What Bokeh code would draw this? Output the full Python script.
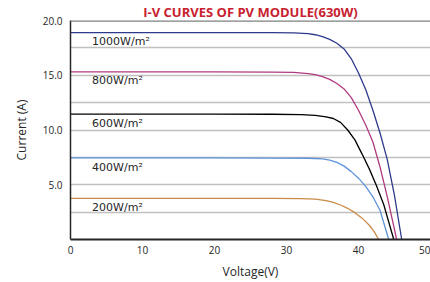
from bokeh.plotting import figure
from bokeh.models import FixedTicker, Span, NumeralTickFormatter, Range1d
from bokeh.core.properties import value
from bokeh.embed import file_html
from bokeh.resources import INLINE

# ---- data ----
v_1000 = [0, 20, 28, 31, 33, 34, 35, 36, 37, 38, 39, 40, 41, 42, 43, 44, 45, 46.0]
i_1000 = [18.9, 18.9, 18.89, 18.87, 18.8, 18.7, 18.53, 18.28, 17.92, 17.4, 16.5, 15.2, 13.7, 11.8, 9.7, 7.3, 4.0, 0]

v_800 = [0, 20, 28, 31, 33, 34, 35, 36, 37, 38, 39, 40, 41, 42, 43, 44, 45.3]
i_800 = [15.3, 15.3, 15.29, 15.26, 15.15, 15.05, 14.88, 14.62, 14.25, 13.75, 12.95, 11.8, 10.45, 8.9, 6.6, 3.9, 0]

v_600 = [0, 20, 28, 32, 34, 35.5, 36.5, 37.5, 38.5, 39.5, 40.5, 41.5, 42.5, 43.5, 44.9]
i_600 = [11.45, 11.45, 11.44, 11.4, 11.33, 11.2, 11.05, 10.7, 10.0, 9.1, 7.8, 6.45, 4.9, 3.2, 0]

v_400 = [0, 20, 28, 33, 35, 36, 37, 38, 39, 40, 41, 42, 43, 44.2]
i_400 = [7.45, 7.45, 7.44, 7.42, 7.36, 7.25, 7.05, 6.7, 6.2, 5.6, 4.85, 3.9, 2.65, 0]

v_200 = [0, 20, 28, 32, 34, 35.5, 36.5, 37.5, 38.5, 39.5, 40.5, 41.5, 42.2, 42.8]
i_200 = [3.76, 3.76, 3.76, 3.74, 3.68, 3.55, 3.4, 3.15, 2.85, 2.45, 1.95, 1.3, 0.7, 0]

series_labels = ["1000W/m²", "800W/m²", "600W/m²", "400W/m²", "200W/m²"]
label_v = [3, 3, 3, 3, 3]
label_i = [18.1, 14.5, 10.6, 6.6, 2.95]

x_ticks = [0, 10, 20, 30, 40, 50]
y_ticks = [5, 10, 15, 20]
y_minor = [2.5, 7.5, 12.5, 17.5]

title_text = "I-V CURVES OF PV MODULE(630W)"
x_title = "Voltage(V)"
y_title = "Current (A)"

colors = ["#2E3A8C", "#B03A80", "#000000", "#5E93DA", "#C98B48"]

p = figure(width=430, height=282, output_backend="svg", toolbar_location=None,
           x_range=Range1d(0, 50), y_range=Range1d(0, 20),
           min_border_left=70, min_border_right=0, min_border_top=0, min_border_bottom=0,
           title=title_text)
p.outline_line_color = None
p.background_fill_color = "white"
p.border_fill_color = "white"

p.title.text_font = "Open Sans"
p.title.text_font_style = "bold"
p.title.text_font_size = "13px"
p.title.text_color = "#C8202E"
p.title.align = "center"
p.title.standoff = 0
p.title.offset = 0

# grids
p.xgrid.grid_line_color = None
p.yaxis.ticker = FixedTicker(ticks=y_ticks, minor_ticks=y_minor)
p.xaxis.ticker = FixedTicker(ticks=x_ticks)
p.ygrid.grid_line_color = "#C0C0C0"
p.ygrid.grid_line_width = 1.5
p.ygrid.minor_grid_line_color = "#C0C0C0"
p.ygrid.minor_grid_line_width = 1.5

top_line = Span(location=20, dimension="width", line_color="#7F7F7F", line_width=2.5)
p.add_layout(top_line)

for v, i, c in zip([v_1000, v_800, v_600, v_400, v_200],
                   [i_1000, i_800, i_600, i_400, i_200], colors):
    p.line(v, i, line_color=c, line_width=1.3)

p.text(x=label_v, y=label_i, text=series_labels, text_font=value("DejaVu Sans"),
       text_font_size="11px", text_color="#262626", text_baseline="middle", text_align="left")

# axes
for ax in (p.xaxis, p.yaxis):
    ax.major_tick_line_color = None
    ax.minor_tick_line_color = None
    ax.major_tick_out = 0
    ax.major_tick_in = 0
    ax.minor_tick_out = 0
    ax.minor_tick_in = 0
    ax.axis_line_color = "#262626"
    ax.major_label_text_font = "Open Sans"
    ax.major_label_text_font_size = "10px"
    ax.major_label_text_color = "#262626"
    ax.axis_label_text_font = "Open Sans"
    ax.axis_label_text_font_size = "12px"
    ax.axis_label_text_font_style = "normal"
    ax.axis_label_text_color = "#262626"
p.xaxis.axis_line_width = 2
p.yaxis.axis_line_width = 1.5
p.yaxis.formatter = NumeralTickFormatter(format="0.0")
p.xaxis.major_label_standoff = 6
p.yaxis.major_label_standoff = 8
p.xaxis.axis_label = x_title
p.yaxis.axis_label = y_title
p.xaxis.axis_label_standoff = 6
p.yaxis.axis_label_standoff = 10

open("out.html", "w").write(file_html(p, INLINE))
